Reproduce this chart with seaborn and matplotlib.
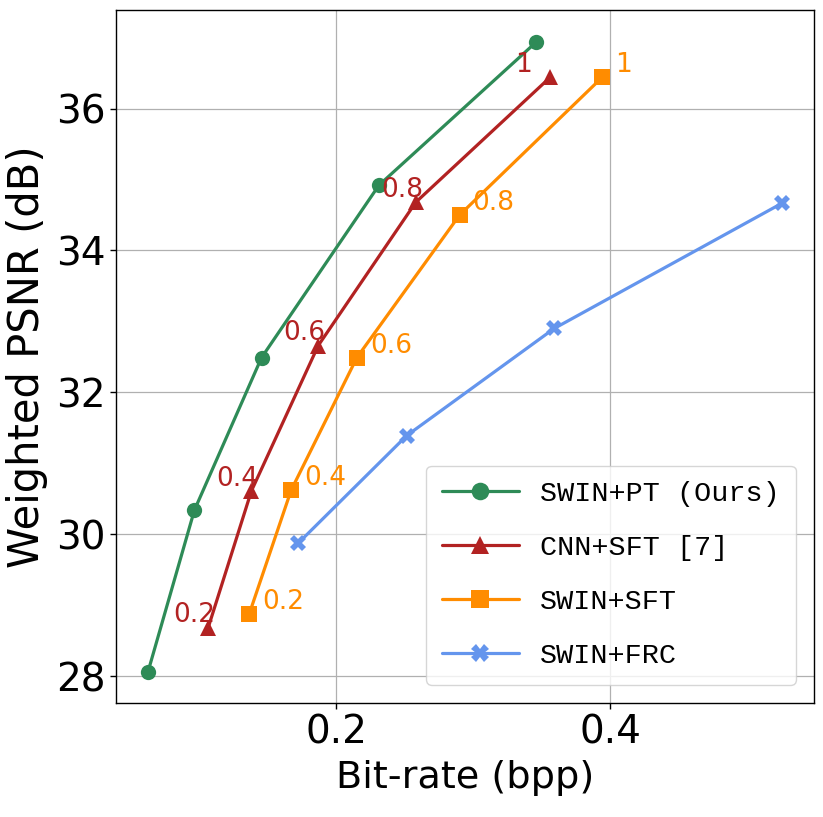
import numpy as np
import pandas as pd
import matplotlib
matplotlib.use("Agg")
import matplotlib.pyplot as plt
import seaborn as sns

# ---- data ----
series_names = ["SWIN+PT (Ours)", "CNN+SFT [7]", "SWIN+SFT", "SWIN+FRC"]

pt_bpp = [0.0625, 0.0964, 0.1454, 0.2311, 0.3460]
pt_psnr = [28.06, 30.34, 32.49, 34.92, 36.94]

cnn_bpp = [0.1064, 0.1380, 0.1868, 0.2580, 0.3560]
cnn_psnr = [28.68, 30.61, 32.66, 34.68, 36.44]

sft_bpp = [0.1363, 0.1670, 0.2150, 0.2900, 0.3940]
sft_psnr = [28.87, 30.62, 32.49, 34.50, 36.44]

frc_bpp = [0.1720, 0.2514, 0.3590, 0.5257]
frc_psnr = [29.87, 31.39, 32.90, 34.67]

rate_labels = ["0.2", "0.4", "0.6", "0.8", "1"]

x_ticks = [0.2, 0.4]
y_ticks = [28, 30, 32, 34, 36]

# ---- style ----
colors = ["#2E8B57", "#B22222", "#FF8C00", "#6495ED"]
markers = ["o", "^", "s", "X"]

sns.set_style("ticks")
plt.rcParams["font.family"] = ["DejaVu Sans"]
plt.rcParams["text.color"] = "black"
plt.rcParams["axes.labelcolor"] = "black"

fig = plt.figure(figsize=(8.23, 8.17), dpi=100)
ax = fig.add_axes([0.1413, 0.1392, 0.848, 0.848])

all_x = [pt_bpp, cnn_bpp, sft_bpp, frc_bpp]
all_y = [pt_psnr, cnn_psnr, sft_psnr, frc_psnr]

for name, xs, ys, c, m in zip(series_names, all_x, all_y, colors, markers):
    df = pd.DataFrame({"bpp": xs, "psnr": ys})
    sns.lineplot(data=df, x="bpp", y="psnr", ax=ax, color=c, marker=m,
                 markersize=11, markeredgewidth=0, linewidth=2.3,
                 label=name, sort=False)

# rate annotations
for xv, yv, t in zip(cnn_bpp, cnn_psnr, rate_labels):
    ax.text(xv - 0.0255, yv + 0.075, t, color=colors[1], fontsize=19,
            ha="left", va="baseline")
for xv, yv, t in zip(sft_bpp, sft_psnr, rate_labels):
    ax.text(xv + 0.0095, yv + 0.07, t, color=colors[2], fontsize=19,
            ha="left", va="baseline")

ax.set_xticks(x_ticks)
ax.set_yticks(y_ticks)
ax.tick_params(axis="both", labelsize=28, length=4, width=1, colors="black")
ax.grid(True, color="#b0b0b0", linewidth=0.9)
for s in ax.spines.values():
    s.set_visible(True)
    s.set_color("black")
    s.set_linewidth(1.0)

ax.set_xlabel("Bit-rate (bpp)", fontsize=27.5, labelpad=6, color="black")
ax.set_ylabel("Weighted PSNR (dB)", fontsize=30, labelpad=6, color="black")

leg = ax.legend(loc="lower right", prop={"family": "Liberation Mono", "size": 20.5},
                handlelength=2.7, handletextpad=0.75, labelspacing=0.98,
                borderaxespad=0.65, borderpad=0.55, frameon=True,
                markerscale=1.15)
for t in leg.get_texts():
    t.set_color("black")

fig.savefig("out.png", dpi=100)
